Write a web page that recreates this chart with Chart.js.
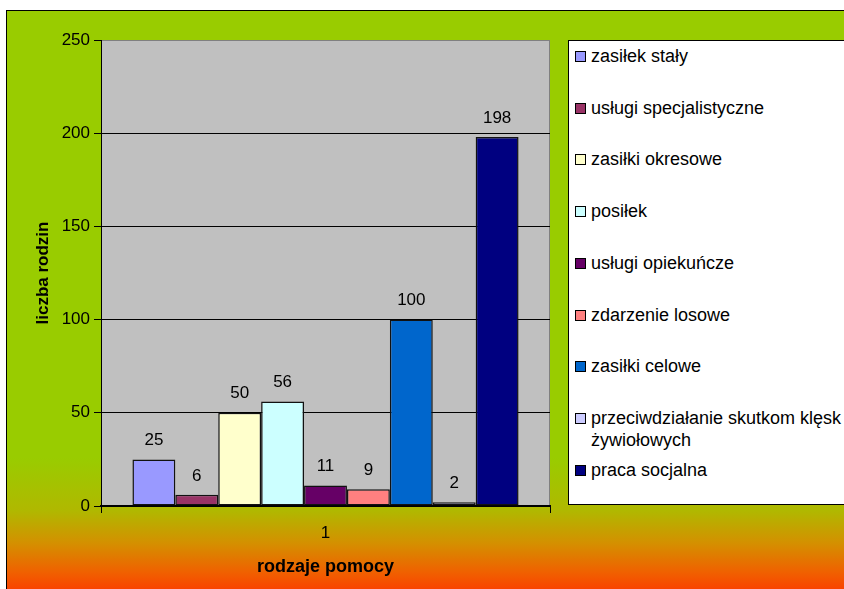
<!DOCTYPE html>
<html>
<head>
<meta charset="utf-8">
<script src="https://cdn.jsdelivr.net/npm/chart.js@4"></script>
<style>
  html, body { margin: 0; padding: 0; background: #fff; overflow: hidden; }
  body { width: 844px; height: 589px; position: relative; font-family: "Liberation Sans", Arial, sans-serif; }
  #frame {
    position: absolute; left: 6px; top: 10px; right: -10px; bottom: -10px;
    border-left: 1px solid #000; border-top: 1px solid #000;
    background: linear-gradient(to bottom, #99cc00 0%, #99cc00 76%, #b0b800 85%, #d49000 90.5%, #f06000 95.5%, #ff3300 100%);
  }
  #wrap { position: absolute; left: 0; top: 0; width: 844px; height: 589px; }
  #legend {
    position: absolute; left: 568px; top: 40px; width: 300px; height: 463px;
    background: #fff; border: 1px solid #000;
  }
  .item { position: absolute; left: 6px; width: 275px; font-size: 18px; line-height: 22px; color: #000; }
  .box { position: absolute; left: 0; top: 6px; width: 9px; height: 9px; border: 1px solid #000; }
  .txt { margin-left: 16px; }
</style>
</head>
<body>
<div id="frame"></div>
<div id="wrap"><canvas id="chart" width="844" height="589"></canvas></div>
<div id="legend"></div>
<script>
// rodzaje pomocy
const categories = ['1'];
const seriesNames = [
  'zasiłek stały',
  'usługi specjalistyczne',
  'zasiłki okresowe',
  'posiłek',
  'usługi opiekuńcze',
  'zdarzenie losowe',
  'zasiłki celowe',
  'przeciwdziałanie skutkom klęsk żywiołowych',
  'praca socjalna'
];
const seriesValues = [25, 6, 50, 56, 11, 9, 100, 2, 198];
const seriesColors = ['#9999ff', '#993366', '#ffffcc', '#ccffff', '#660066', '#ff8080', '#0066cc', '#ccccff', '#000080'];
const yTicks = [0, 50, 100, 150, 200, 250];

const FONT = '"Liberation Sans", Arial, sans-serif';

// grey plot area behind the bars
const plotBg = {
  id: 'plotBg',
  beforeDraw(chart) {
    const { ctx, chartArea: a } = chart;
    ctx.save();
    ctx.fillStyle = '#c0c0c0';
    ctx.fillRect(a.left, a.top, a.right - a.left, a.bottom - a.top);
    ctx.strokeStyle = '#808080';
    ctx.lineWidth = 1;
    ctx.beginPath();
    ctx.moveTo(a.left, a.top + 0.5);
    ctx.lineTo(a.right - 0.5, a.top + 0.5);
    ctx.lineTo(a.right - 0.5, a.bottom);
    ctx.stroke();
    ctx.restore();
  }
};

// values above bars
const valueLabels = {
  id: 'valueLabels',
  afterDatasetsDraw(chart) {
    const { ctx } = chart;
    ctx.save();
    ctx.font = '17px ' + FONT;
    ctx.fillStyle = '#000';
    ctx.textAlign = 'center';
    ctx.textBaseline = 'middle';
    chart.data.datasets.forEach((ds, i) => {
      chart.getDatasetMeta(i).data.forEach((bar, j) => {
        ctx.fillText(String(ds.data[j]), bar.x, bar.y - 19);
      });
    });
    ctx.restore();
  }
};

const datasets = seriesNames.map((name, i) => ({
  label: name,
  data: [seriesValues[i]],
  backgroundColor: seriesColors[i],
  borderColor: '#111',
  borderWidth: 1.5,
  borderSkipped: false,
  categoryPercentage: 0.86,
  barPercentage: 1
}));

new Chart(document.getElementById('chart'), {
  type: 'bar',
  data: { labels: categories, datasets },
  options: {
    responsive: false,
    animation: false,
    events: [],
    layout: { padding: { left: 0, top: 40, right: 294, bottom: 0 } },
    plugins: { legend: { display: false }, tooltip: { enabled: false } },
    scales: {
      x: {
        afterFit(scale) { scale.height = 83; },
        border: { color: '#000', width: 2 },
        grid: { drawOnChartArea: false, color: '#000', tickLength: 7, offset: true },
        ticks: { color: '#000', font: { family: FONT, size: 17 }, padding: 10 },
        title: {
          display: true, text: 'rodzaje pomocy', color: '#000',
          font: { family: FONT, size: 18, weight: 'bold' }, padding: { top: 0, bottom: 11 }
        }
      },
      y: {
        min: 0, max: 250,
        afterFit(scale) { scale.width = 101; },
        afterBuildTicks(scale) { scale.ticks = yTicks.map(v => ({ value: v })); },
        border: { color: '#000', width: 1 },
        grid: {
          color: ctx => (ctx.tick && ctx.tick.value === 250 ? '#808080' : '#000'),
          tickColor: '#000',
          tickLength: 7
        },
        ticks: { color: '#000', font: { family: FONT, size: 17 }, padding: 4 },
        title: {
          display: true, text: 'liczba rodzin', color: '#000',
          font: { family: FONT, size: 17, weight: 'bold' }, padding: { top: 33, bottom: 0 }
        }
      }
    }
  },
  plugins: [plotBg, valueLabels]
});

// legend on the right
const legend = document.getElementById('legend');
seriesNames.forEach((name, i) => {
  const item = document.createElement('div');
  item.className = 'item';
  item.style.top = (15 + i * 51.7 - 11) + 'px';
  item.innerHTML = `<span class="box" style="background:${seriesColors[i]}"></span><div class="txt">${name}</div>`;
  legend.appendChild(item);
});
</script>
</body>
</html>
